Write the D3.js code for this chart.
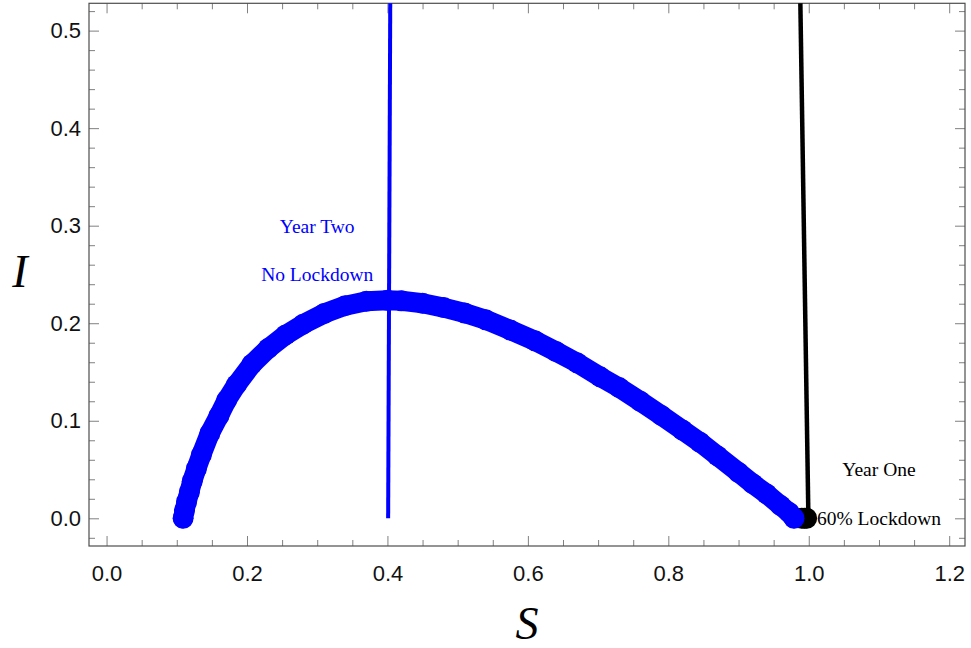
<!DOCTYPE html>
<html>
<head>
<meta charset="utf-8">
<script src="https://cdn.jsdelivr.net/npm/d3@7"></script>
<style>
  body { margin: 0; background: #fff; }
  svg { display: block; }
</style>
</head>
<body>
<div id="chart"></div>
<script>
// S-I phase plane, no lockdown vs 60% lockdown

// year two trajectory (S, I)
const yearTwoS = [0.109, 0.111, 0.114, 0.118, 0.122, 0.128, 0.135, 0.147, 0.160, 0.171,
                  0.185, 0.207, 0.230, 0.255, 0.280, 0.310, 0.340, 0.370, 0.400, 0.420,
                  0.450, 0.480, 0.510, 0.540, 0.575, 0.610, 0.640, 0.670, 0.703, 0.730,
                  0.760, 0.790, 0.820, 0.845, 0.870, 0.900, 0.920, 0.940, 0.960, 0.972, 0.979];
const yearTwoI = [0.000, 0.008, 0.017, 0.027, 0.038, 0.051, 0.065, 0.087, 0.105, 0.121,
                  0.137, 0.158, 0.174, 0.188, 0.199, 0.210, 0.218, 0.2225, 0.2235, 0.223,
                  0.2205, 0.216, 0.2105, 0.2035, 0.193, 0.182, 0.171, 0.1595, 0.145, 0.134,
                  0.120, 0.1055, 0.0905, 0.078, 0.064, 0.047, 0.0355, 0.025, 0.013, 0.006, 0.000];

// year one points (60% lockdown) stay near S = 1
const yearOneS = [0.990, 0.994, 0.997];
const yearOneI = [0.000, 0.000, 0.000];

// the two straight lines
const noLockLine = [[0.401, 0.0], [0.404, 0.53]];
const lockLine = [[0.9995, 0.0], [0.988, 0.53]];

const xMajor = [0.0, 0.2, 0.4, 0.6, 0.8, 1.0, 1.2];
const yMajor = [0.0, 0.1, 0.2, 0.3, 0.4, 0.5];

const labels = [
  {s: 0.3, i: 0.30, text: "Year Two", color: "#0000ff"},
  {s: 0.3, i: 0.25, text: "No Lockdown", color: "#0000ff"},
  {s: 1.1, i: 0.05, text: "Year One", color: "#000"},
  {s: 1.1, i: 0.0, text: "60% Lockdown", color: "#000"}
];

const width = 971, height = 648;
const frame = {left: 89, right: 965, top: 3.3, bottom: 546};

let svg = d3.select("#chart")
  .append("svg")
  .attr("width", width)
  .attr("height", height);

let x = d3.scaleLinear()
  .domain([-0.025, 1.2225])
  .range([frame.left, frame.right]);

let y = d3.scaleLinear()
  .domain([-0.0284, 0.528])
  .range([frame.bottom, frame.top]);

svg.append("clipPath").attr("id", "clip")
  .append("rect")
  .attr("x", frame.left).attr("y", frame.top)
  .attr("width", frame.right - frame.left)
  .attr("height", frame.bottom - frame.top);

// ticks on all four sides, pointing inward
const xMinor = d3.range(0, 1.2001, 0.05).filter(v => Math.abs(v / 0.2 - Math.round(v / 0.2)) > 0.01);
const yMinor = d3.range(-0.02, 0.5201, 0.02).filter(v => Math.abs(v / 0.1 - Math.round(v / 0.1)) > 0.01);

const axisStyle = g => {
  g.select(".domain").remove();
  g.selectAll(".tick line").attr("stroke", "#808080");
  g.selectAll("text").attr("fill", "#111")
    .style("font-family", "'Liberation Sans', Arial, sans-serif")
    .style("font-size", "22px");
};

svg.append("g")
  .attr("transform", `translate(0,${frame.bottom})`)
  .call(d3.axisTop(x).tickValues(xMajor).tickSize(10).tickFormat(d3.format(".1f")))
  .call(axisStyle)
  .selectAll("text").attr("y", 19).attr("dy", "0.71em");

svg.append("g")
  .attr("transform", `translate(0,${frame.bottom})`)
  .call(d3.axisTop(x).tickValues(xMinor).tickSize(6).tickFormat(""))
  .call(axisStyle);

svg.append("g")
  .attr("transform", `translate(0,${frame.top})`)
  .call(d3.axisBottom(x).tickValues(xMajor).tickSize(10).tickFormat(""))
  .call(axisStyle);

svg.append("g")
  .attr("transform", `translate(0,${frame.top})`)
  .call(d3.axisBottom(x).tickValues(xMinor).tickSize(6).tickFormat(""))
  .call(axisStyle);

svg.append("g")
  .attr("transform", `translate(${frame.left},0)`)
  .call(d3.axisRight(y).tickValues(yMajor).tickSize(10).tickFormat(d3.format(".1f")))
  .call(axisStyle)
  .selectAll("text").attr("x", -8).attr("text-anchor", "end");

svg.append("g")
  .attr("transform", `translate(${frame.left},0)`)
  .call(d3.axisRight(y).tickValues(yMinor).tickSize(6).tickFormat(""))
  .call(axisStyle);

svg.append("g")
  .attr("transform", `translate(${frame.right},0)`)
  .call(d3.axisLeft(y).tickValues(yMajor).tickSize(10).tickFormat(""))
  .call(axisStyle);

svg.append("g")
  .attr("transform", `translate(${frame.right},0)`)
  .call(d3.axisLeft(y).tickValues(yMinor).tickSize(6).tickFormat(""))
  .call(axisStyle);

// frame
svg.append("rect")
  .attr("x", frame.left).attr("y", frame.top)
  .attr("width", frame.right - frame.left)
  .attr("height", frame.bottom - frame.top)
  .attr("fill", "none")
  .attr("stroke", "#4d4d4d")
  .attr("stroke-width", 1.2);

let plot = svg.append("g").attr("clip-path", "url(#clip)");

const line = d3.line().x(d => x(d[0])).y(d => y(d[1]));

// year one dots
plot.selectAll(".one")
  .data(d3.zip(yearOneS, yearOneI))
  .join("circle")
  .attr("class", "one")
  .attr("cx", d => x(d[0]))
  .attr("cy", d => y(d[1]))
  .attr("r", 10.5)
  .attr("fill", "#000");

// year two thick dotted trajectory
const two = d3.zip(yearTwoS, yearTwoI);
plot.append("path")
  .attr("d", line(two))
  .attr("fill", "none")
  .attr("stroke", "#0000ff")
  .attr("stroke-width", 20)
  .attr("stroke-linejoin", "round")
  .attr("stroke-linecap", "round");

plot.selectAll(".two")
  .data(two)
  .join("circle")
  .attr("class", "two")
  .attr("cx", d => x(d[0]))
  .attr("cy", d => y(d[1]))
  .attr("r", 10.5)
  .attr("fill", "#0000ff");

plot.append("path")
  .attr("d", line(noLockLine))
  .attr("stroke", "#0000ff")
  .attr("stroke-width", 4)
  .attr("fill", "none");

plot.append("path")
  .attr("d", line(lockLine))
  .attr("stroke", "#000")
  .attr("stroke-width", 4.5)
  .attr("fill", "none");

// annotations
svg.selectAll(".note")
  .data(labels)
  .join("text")
  .attr("class", "note")
  .attr("x", d => x(d.s))
  .attr("y", d => y(d.i))
  .attr("dy", "0.35em")
  .attr("text-anchor", "middle")
  .attr("fill", d => d.color)
  .style("font-family", "'Liberation Serif', 'Times New Roman', serif")
  .style("font-size", "19.5px")
  .text(d => d.text);

// axis titles
svg.append("text")
  .attr("x", (frame.left + frame.right) / 2)
  .attr("y", 639)
  .attr("text-anchor", "middle")
  .style("font-family", "'Liberation Serif', 'Times New Roman', serif")
  .style("font-style", "italic")
  .style("font-size", "46px")
  .text("S");

svg.append("text")
  .attr("x", 20)
  .attr("y", 287)
  .attr("text-anchor", "middle")
  .style("font-family", "'Liberation Serif', 'Times New Roman', serif")
  .style("font-style", "italic")
  .style("font-size", "46px")
  .text("I");
</script>
</body>
</html>
